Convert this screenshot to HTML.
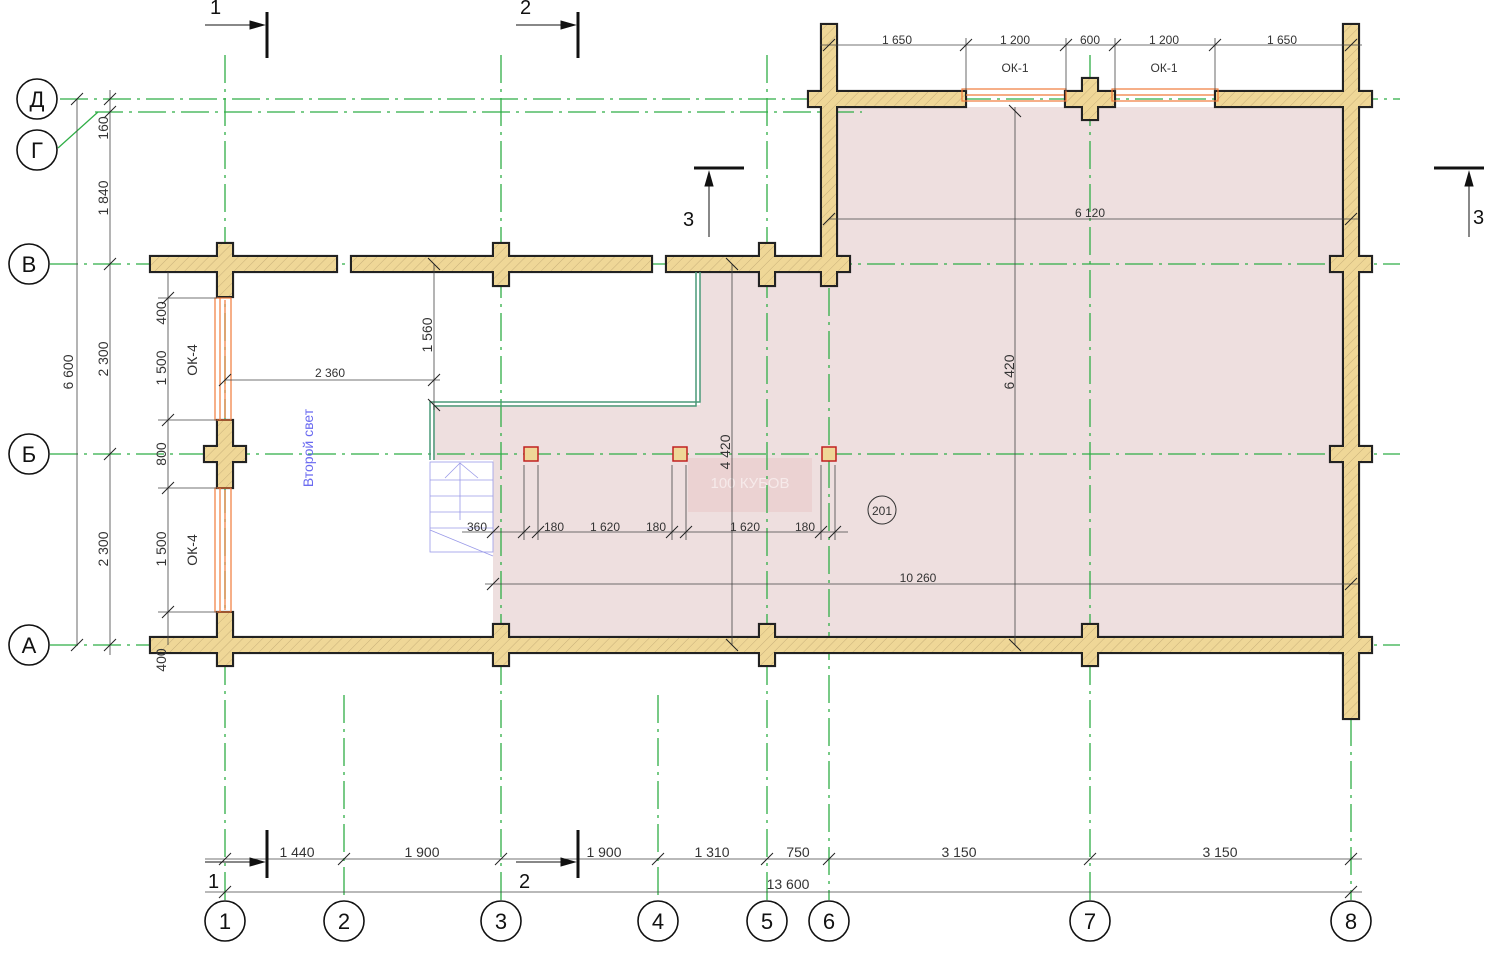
<!DOCTYPE html>
<html><head><meta charset="utf-8"><style>
html,body{margin:0;padding:0;background:#fff}
svg{display:block}
text{font-family:"Liberation Sans Narrow","Liberation Sans",sans-serif;fill:#333;font-size:14px}
.ax{stroke:#2fae46;stroke-width:1.3;stroke-dasharray:28 6 3 6;fill:none}
.dm{stroke:#444;stroke-width:0.8;fill:none}
.tk{stroke:#222;stroke-width:1}
.c{fill:#fff;stroke:#111;stroke-width:1.6}
.ct{font-size:22px;fill:#111;text-anchor:middle;font-family:"Liberation Sans",sans-serif}
</style></head><body>
<svg width="1500" height="966" viewBox="0 0 1500 966" xmlns="http://www.w3.org/2000/svg">
<defs>
<pattern id="h" width="7" height="7" patternUnits="userSpaceOnUse" patternTransform="rotate(45)">
<rect width="7" height="7" fill="#efd797"/><line x1="0" y1="0" x2="0" y2="7" stroke="#c8b07a" stroke-width="1"/>
</pattern>
</defs>
<polygon points="433,405 700,405 700,272 836,272 836,107 1343,107 1343,637 493,637 493,460 433,460" fill="#eedfdf"/>
<rect x="688" y="458" width="124" height="54" fill="#ebd2d2"/>
<text x="750" y="488" text-anchor="middle" style="fill:#f6eaea;font-size:15px">100 КУБОВ</text>
<g class="ax">
<line x1="60" y1="99" x2="1400" y2="99"/>
<line x1="95" y1="112" x2="862" y2="112"/>
<line x1="50" y1="264" x2="1400" y2="264"/>
<line x1="50" y1="454" x2="1400" y2="454"/>
<line x1="50" y1="645" x2="1400" y2="645"/>
<line x1="225" y1="55" x2="225" y2="900"/>
<line x1="344" y1="695" x2="344" y2="900"/>
<line x1="501" y1="55" x2="501" y2="900"/>
<line x1="658" y1="695" x2="658" y2="900"/>
<line x1="767" y1="55" x2="767" y2="900"/>
<line x1="829" y1="30" x2="829" y2="900"/>
<line x1="1090" y1="55" x2="1090" y2="900"/>
<line x1="1351" y1="30" x2="1351" y2="900"/>
</g>
<line x1="58" y1="148" x2="98" y2="112" stroke="#2fae46" stroke-width="1.3"/>
<g stroke="#222" stroke-width="2.2" fill="url(#h)">
<rect x="150" y="256" width="187" height="16"/><rect x="351" y="256" width="301" height="16"/><rect x="666" y="256" width="184" height="16"/>
<rect x="217" y="243" width="16" height="54"/><rect x="493" y="243" width="16" height="43"/><rect x="759" y="243" width="16" height="43"/>
<rect x="821" y="24" width="16" height="262"/>
<rect x="217" y="420" width="16" height="68"/><rect x="204" y="446" width="42" height="16"/>
<rect x="217" y="612" width="16" height="54"/>
<rect x="150" y="637" width="1209" height="16"/>
<rect x="493" y="624" width="16" height="42"/><rect x="759" y="624" width="16" height="42"/><rect x="1082" y="624" width="16" height="42"/>
<rect x="1343" y="24" width="16" height="695"/>
<rect x="1330" y="256" width="42" height="16"/><rect x="1330" y="446" width="42" height="16"/><rect x="1330" y="637" width="42" height="16"/>
<rect x="808" y="91" width="158" height="16"/><rect x="1065" y="91" width="50" height="16"/><rect x="1082" y="78" width="16" height="42"/><rect x="1215" y="91" width="157" height="16"/>
</g>
<g fill="url(#h)">
<rect x="151" y="257" width="185" height="14"/><rect x="352" y="257" width="299" height="14"/><rect x="667" y="257" width="182" height="14"/>
<rect x="218" y="244" width="14" height="52"/><rect x="494" y="244" width="14" height="41"/><rect x="760" y="244" width="14" height="41"/>
<rect x="822" y="25" width="14" height="260"/>
<rect x="218" y="421" width="14" height="66"/><rect x="205" y="447" width="40" height="14"/>
<rect x="218" y="613" width="14" height="52"/>
<rect x="151" y="638" width="1207" height="14"/>
<rect x="494" y="625" width="14" height="40"/><rect x="760" y="625" width="14" height="40"/><rect x="1083" y="625" width="14" height="40"/>
<rect x="1344" y="25" width="14" height="693"/>
<rect x="1331" y="257" width="40" height="14"/><rect x="1331" y="447" width="40" height="14"/><rect x="1331" y="638" width="40" height="14"/>
<rect x="809" y="92" width="156" height="14"/><rect x="1066" y="92" width="48" height="14"/><rect x="1083" y="79" width="14" height="40"/><rect x="1216" y="92" width="155" height="14"/>
</g>
<g fill="none" stroke="#f07a3a" stroke-width="1.2">
<rect x="215" y="298" width="16" height="122"/><line x1="220" y1="298" x2="220" y2="420"/><line x1="225" y1="300" x2="225" y2="418"/>
<rect x="215" y="488" width="16" height="124"/><line x1="220" y1="488" x2="220" y2="612"/><line x1="225" y1="490" x2="225" y2="610"/>
<rect x="962" y="89" width="104" height="12"/><line x1="966" y1="95" x2="1064" y2="95"/>
<rect x="1112" y="89" width="106" height="12"/><line x1="1116" y1="95" x2="1214" y2="95"/>
</g>
<g fill="none" stroke="#4a9a78" stroke-width="1.5">
<path d="M430,460 V402 H700 V272"/><path d="M434,460 V406 H696 V272"/>
</g>
<g stroke="#9a9ae8" stroke-width="0.8" fill="none">
<rect x="430" y="462" width="63" height="90"/>
<line x1="430" y1="480" x2="493" y2="480"/><line x1="430" y1="496" x2="493" y2="496"/><line x1="430" y1="512" x2="493" y2="512"/><line x1="430" y1="528" x2="493" y2="528"/>
<path d="M445,478 L460,463 L478,478 M460,463 V520"/><line x1="430" y1="530" x2="493" y2="556"/>
</g>
<g fill="#efd797" stroke="#c02020" stroke-width="1.5">
<rect x="524" y="447" width="14" height="14"/><rect x="673" y="447" width="14" height="14"/><rect x="822" y="447" width="14" height="14"/>
</g>
<text x="313" y="448" transform="rotate(-90 313 448)" text-anchor="middle" style="fill:#6a6af0">Второй свет</text>
<circle cx="882" cy="510" r="14" fill="none" stroke="#333"/><text x="882" y="515" text-anchor="middle" style="font-size:12px">201</text>
<g class="dm">
<line x1="205" y1="859" x2="1362" y2="859"/><line x1="205" y1="892" x2="1362" y2="892"/>
<line x1="110" y1="90" x2="110" y2="655"/><line x1="77" y1="99" x2="77" y2="645"/>
<line x1="168" y1="272" x2="168" y2="645"/>
<line x1="158" y1="298" x2="217" y2="298"/><line x1="158" y1="420" x2="217" y2="420"/><line x1="158" y1="488" x2="217" y2="488"/><line x1="158" y1="612" x2="217" y2="612"/>
<line x1="820" y1="45" x2="1362" y2="45"/>
<line x1="966" y1="38" x2="966" y2="91"/><line x1="1066" y1="38" x2="1066" y2="91"/><line x1="1115" y1="38" x2="1115" y2="91"/><line x1="1215" y1="38" x2="1215" y2="91"/>
<line x1="829" y1="219" x2="1358" y2="219"/><line x1="485" y1="584" x2="1358" y2="584"/>
<line x1="1015" y1="107" x2="1015" y2="645"/><line x1="732" y1="264" x2="732" y2="645"/>
<line x1="434" y1="264" x2="434" y2="410"/><line x1="225" y1="380" x2="440" y2="380"/>
<line x1="462" y1="532" x2="848" y2="532"/>
<line x1="524" y1="465" x2="524" y2="540"/><line x1="538" y1="465" x2="538" y2="540"/><line x1="672" y1="465" x2="672" y2="540"/><line x1="686" y1="465" x2="686" y2="540"/><line x1="821" y1="465" x2="821" y2="540"/><line x1="835" y1="465" x2="835" y2="540"/>
</g>
<g class="tk">
<path d="M219,865 l12,-12 M338,865 l12,-12 M495,865 l12,-12 M652,865 l12,-12 M761,865 l12,-12 M823,865 l12,-12 M1084,865 l12,-12 M1345,865 l12,-12"/>
<path d="M219,898 l12,-12 M1345,898 l12,-12"/>
<path d="M104,105 l12,-12 M104,118 l12,-12 M104,270 l12,-12 M104,460 l12,-12 M104,651 l12,-12 M71,105 l12,-12 M71,651 l12,-12"/>
<path d="M162,304 l12,-12 M162,426 l12,-12 M162,494 l12,-12 M162,618 l12,-12"/>
<path d="M823,51 l12,-12 M960,51 l12,-12 M1060,51 l12,-12 M1109,51 l12,-12 M1209,51 l12,-12 M1345,51 l12,-12"/>
<path d="M823,225 l12,-12 M1345,225 l12,-12 M487,590 l12,-12 M1345,590 l12,-12"/>
<path d="M1009,105 l12,12 M1009,639 l12,12 M726,258 l12,12 M726,639 l12,12 M428,258 l12,12 M428,399 l12,12 M219,386 l12,-12 M428,386 l12,-12"/>
<path d="M487,538 l12,-12 M518,538 l12,-12 M532,538 l12,-12 M666,538 l12,-12 M680,538 l12,-12 M815,538 l12,-12 M829,538 l12,-12"/>
</g>
<g>
<text x="297" y="857" text-anchor="middle">1 440</text><text x="422" y="857" text-anchor="middle">1 900</text><text x="604" y="857" text-anchor="middle">1 900</text><text x="712" y="857" text-anchor="middle">1 310</text><text x="798" y="857" text-anchor="middle">750</text><text x="959" y="857" text-anchor="middle">3 150</text><text x="1220" y="857" text-anchor="middle">3 150</text>
<text x="788" y="889" text-anchor="middle">13 600</text>
<text x="897" y="44" text-anchor="middle" style="font-size:12px">1 650</text><text x="1015" y="44" text-anchor="middle" style="font-size:12px">1 200</text><text x="1090" y="44" text-anchor="middle" style="font-size:12px">600</text><text x="1164" y="44" text-anchor="middle" style="font-size:12px">1 200</text><text x="1282" y="44" text-anchor="middle" style="font-size:12px">1 650</text>
<text x="1015" y="72" text-anchor="middle" style="font-size:12px">ОК-1</text><text x="1164" y="72" text-anchor="middle" style="font-size:12px">ОК-1</text>
<text x="1090" y="217" text-anchor="middle" style="font-size:12px">6 120</text><text x="918" y="582" text-anchor="middle" style="font-size:12px">10 260</text>
<text x="330" y="377" text-anchor="middle" style="font-size:12px">2 360</text>
<text x="477" y="531" text-anchor="middle" style="font-size:12px">360</text><text x="554" y="531" text-anchor="middle" style="font-size:12px">180</text><text x="605" y="531" text-anchor="middle" style="font-size:12px">1 620</text><text x="656" y="531" text-anchor="middle" style="font-size:12px">180</text><text x="745" y="531" text-anchor="middle" style="font-size:12px">1 620</text><text x="805" y="531" text-anchor="middle" style="font-size:12px">180</text>
<g style="font-size:12px" text-anchor="middle">
<text x="1014" y="372" transform="rotate(-90 1014 372)">6 420</text>
<text x="730" y="452" transform="rotate(-90 730 452)">4 420</text>
<text x="432" y="335" transform="rotate(-90 432 335)">1 560</text>
<text x="108" y="128" transform="rotate(-90 108 128)">160</text>
<text x="108" y="198" transform="rotate(-90 108 198)">1 840</text>
<text x="108" y="359" transform="rotate(-90 108 359)">2 300</text>
<text x="108" y="549" transform="rotate(-90 108 549)">2 300</text>
<text x="73" y="372" transform="rotate(-90 73 372)">6 600</text>
<text x="166" y="313" transform="rotate(-90 166 313)">400</text>
<text x="166" y="368" transform="rotate(-90 166 368)">1 500</text>
<text x="166" y="454" transform="rotate(-90 166 454)">800</text>
<text x="166" y="549" transform="rotate(-90 166 549)">1 500</text>
<text x="166" y="660" transform="rotate(-90 166 660)">400</text>
<text x="197" y="360" transform="rotate(-90 197 360)">ОК-4</text>
<text x="197" y="550" transform="rotate(-90 197 550)">ОК-4</text>
</g>
</g>
<g stroke="#111" fill="#111">
<line x1="267" y1="12" x2="267" y2="58" stroke-width="3"/><line x1="205" y1="25" x2="255" y2="25" stroke-width="1"/><path d="M264,25 l-14,-4 v8z"/>
<line x1="578" y1="12" x2="578" y2="58" stroke-width="3"/><line x1="516" y1="25" x2="566" y2="25" stroke-width="1"/><path d="M575,25 l-14,-4 v8z"/>
<line x1="267" y1="830" x2="267" y2="878" stroke-width="3"/><line x1="205" y1="862" x2="255" y2="862" stroke-width="1"/><path d="M264,862 l-14,-4 v8z"/>
<line x1="578" y1="830" x2="578" y2="878" stroke-width="3"/><line x1="516" y1="862" x2="566" y2="862" stroke-width="1"/><path d="M575,862 l-14,-4 v8z"/>
<line x1="694" y1="168" x2="744" y2="168" stroke-width="3"/><line x1="709" y1="237" x2="709" y2="185" stroke-width="1"/><path d="M709,172 l-4,14 h8z"/>
<line x1="1434" y1="168" x2="1484" y2="168" stroke-width="3"/><line x1="1469" y1="237" x2="1469" y2="185" stroke-width="1"/><path d="M1469,172 l-4,14 h8z"/>
</g>
<g>
<text x="210" y="14" style="font-size:20px;fill:#111">1</text><text x="520" y="14" style="font-size:20px;fill:#111">2</text>
<text x="208" y="888" style="font-size:20px;fill:#111">1</text><text x="519" y="888" style="font-size:20px;fill:#111">2</text>
<text x="683" y="226" style="font-size:20px;fill:#111">3</text><text x="1473" y="224" style="font-size:20px;fill:#111">3</text>
</g>
<g>
<circle class="c" cx="37" cy="99" r="20"/><text class="ct" x="37" y="107">Д</text>
<circle class="c" cx="37" cy="150" r="20"/><text class="ct" x="37" y="158">Г</text>
<circle class="c" cx="29" cy="264" r="20"/><text class="ct" x="29" y="272">В</text>
<circle class="c" cx="29" cy="454" r="20"/><text class="ct" x="29" y="462">Б</text>
<circle class="c" cx="29" cy="645" r="20"/><text class="ct" x="29" y="653">А</text>
<circle class="c" cx="225" cy="921" r="20"/><text class="ct" x="225" y="929">1</text>
<circle class="c" cx="344" cy="921" r="20"/><text class="ct" x="344" y="929">2</text>
<circle class="c" cx="501" cy="921" r="20"/><text class="ct" x="501" y="929">3</text>
<circle class="c" cx="658" cy="921" r="20"/><text class="ct" x="658" y="929">4</text>
<circle class="c" cx="767" cy="921" r="20"/><text class="ct" x="767" y="929">5</text>
<circle class="c" cx="829" cy="921" r="20"/><text class="ct" x="829" y="929">6</text>
<circle class="c" cx="1090" cy="921" r="20"/><text class="ct" x="1090" y="929">7</text>
<circle class="c" cx="1351" cy="921" r="20"/><text class="ct" x="1351" y="929">8</text>
</g>
</svg>
</body></html>
